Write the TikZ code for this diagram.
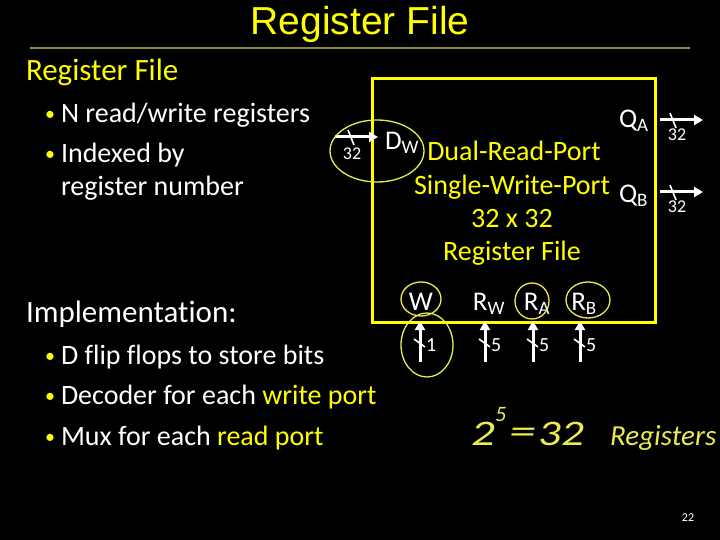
\documentclass[tikz,border=0pt]{standalone}
\usepackage{fontspec}
\setmainfont[Ligatures=NoCommon]{Carlito}
\newfontfamily\arialf{Liberation Sans}
\usetikzlibrary{arrows.meta}
\definecolor{slideyellow}{RGB}{255,255,0}
\definecolor{penyellow}{RGB}{235,235,80}
\definecolor{ruleolive}{RGB}{140,138,60}
\newcommand{\fs}[1]{\fontsize{#1}{#1}\selectfont}
\tikzset{
  txt/.style={inner sep=0pt, outer sep=0pt, text=white},
  ytxt/.style={inner sep=0pt, outer sep=0pt, text=slideyellow},
  bul/.style={inner sep=0pt, outer sep=0pt, text=slideyellow, anchor=base west, font=\fs{20}},
  bus/.style={draw=white, line width=3pt, -{Triangle[length=9pt,width=10pt]}},
  slash/.style={draw=white, line width=1.6pt},
  ink/.style={draw=penyellow, line width=1.3pt},
  hand/.style={inner sep=0pt, text=penyellow, anchor=base west},
  small/.style={inner sep=0pt, text=white, font=\fs{18}},
}
\begin{document}
\begin{tikzpicture}[x=1pt,y=-1pt]
\fill[black] (0,0) rectangle (720,540);
\useasboundingbox (0,0) rectangle (720,540);

% title
\node[ytxt, font=\arialf\fs{39}, anchor=base] (title) at (360,35) {Register File};
\coordinate (rl) at (30,48);
\coordinate (rr) at (690,48);
\draw[ruleolive, line width=2pt] (rl) -- (rr);

% left text
\node[ytxt, anchor=base west, font=\fs{31}] (sub1) at (26,81) {Register File};
\node[bul] (b1) at (45,121) {\textbullet};
\node[txt, anchor=base west, font=\fs{28}] (t1) at (61,123) {N read/write registers};
\node[bul] (b2) at (45,161) {\textbullet};
\node[txt, anchor=base west, font=\fs{28}] (t2) at (61,163) {Indexed by};
\node[txt, anchor=base west, font=\fs{28}] (t3) at (61,196) {register number};

\node[txt, anchor=base west, font=\fs{31}] (impl) at (26,322) {Implementation:};
\node[bul] (b3) at (45,362) {\textbullet};
\node[txt, anchor=base west, font=\fs{28}] (t4) at (61,364) {D flip flops to store bits};
\node[bul] (b4) at (45,402) {\textbullet};
\node[txt, anchor=base west, font=\fs{28}] (t5) at (61,404) {Decoder for each \textcolor{slideyellow}{write port}};
\node[bul] (b5) at (45,443) {\textbullet};
\node[txt, anchor=base west, font=\fs{28}] (t6) at (61,445) {Mux for each \textcolor{slideyellow}{read port}};

% register file box
\draw[slideyellow, line width=3pt] (372,79) rectangle (655,322);
\node[ytxt, font=\fs{28}, anchor=base] (l1) at (514,161) {Dual-Read-Port};
\node[ytxt, font=\fs{28}, anchor=base] (l2) at (512,195) {Single-Write-Port};
\node[ytxt, font=\fs{28}, anchor=base] (l3) at (512,227) {32 x 32};
\node[ytxt, font=\fs{28}, anchor=base] (l4) at (512,260) {Register File};

% port labels
\node[txt, anchor=base west, font=\fs{27}] (dw) at (385,150) {D\textsubscript{\fs{19}W}};
\node[txt, anchor=base west, font=\fs{27}] (qa) at (619,128) {Q\textsubscript{\fs{19}A}};
\node[txt, anchor=base west, font=\fs{27}] (qb) at (619,203) {Q\textsubscript{\fs{19}B}};
\node[txt, font=\fs{27}] (w) at (421,302) {W};
\node[txt, font=\fs{27}] (rw) at (489,304) {R\textsubscript{\fs{19}W}};
\node[txt, font=\fs{27}] (ra) at (537,304) {R\textsubscript{\fs{19}A}};
\node[txt, font=\fs{27}] (rb) at (584,304) {R\textsubscript{\fs{19}B}};

% buses
\coordinate (dwin) at (335,137);
\coordinate (dwend) at (378,137);
\draw[bus] (dwin) -- (dwend);
\draw[slash] (348,130) -- (354,145);
\node[small] (n32a) at (352,154) {32};

\coordinate (qas) at (660,120);
\coordinate (qae) at (703,120);
\draw[bus] (qas) -- (qae);
\draw[slash] (670,113) -- (676,128);
\node[small] (n32b) at (677,135) {32};

\coordinate (qbs) at (660,192);
\coordinate (qbe) at (703,192);
\draw[bus] (qbs) -- (qbe);
\draw[slash] (670,185) -- (676,200);
\node[small] (n32c) at (677,207) {32};

\foreach \x/\n/\nm in {420/1/wi, 485/5/rwi, 533/5/rai, 580/5/rbi}{
  \coordinate (\nm s) at (\x,362);
  \coordinate (\nm e) at (\x,321);
  \draw[bus] (\nm s) -- (\nm e);
  \draw[slash] (\x-6,339) -- (\x+5,347);
  \node[txt, font=\fs{20}, anchor=west] (\nm l) at (\x+6,345) {\n};
}

% handwritten annotations
\draw[ink] (377,151) ellipse [x radius=47, y radius=31];
\draw[ink] (421,299) ellipse [x radius=20, y radius=17];
\draw[ink] (427,345) ellipse [x radius=26, y radius=32];
\draw[ink] (532,301) ellipse [x radius=17, y radius=18];
\draw[ink] (588,300) ellipse [x radius=22, y radius=18];

\node[hand, font=\itshape\fs{36}] (eq2) at (471,445) {\scalebox{1.3}[1]{2}};
\node[hand, font=\itshape\fs{22}] (eq5) at (495,421) {5};
\node[hand, font=\itshape\fs{36}] (eqs) at (509,443) {\scalebox{1.5}[1]{=}};
\node[hand, font=\itshape\fs{36}] (eq32) at (538,445) {\scalebox{1.25}[1]{32}};
\node[hand, font=\itshape\fs{29}] (regs) at (610,445) {Registers};

\node[txt, font=\fs{12}] (pg) at (688,518) {22};
\end{tikzpicture}
\end{document}
